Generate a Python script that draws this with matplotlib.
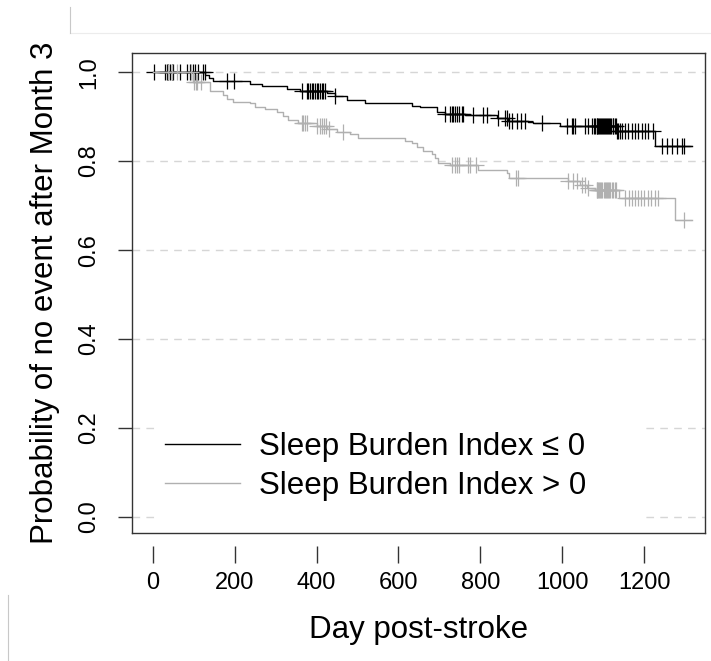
import numpy as np
import matplotlib
matplotlib.use("Agg")
import matplotlib.pyplot as plt
from matplotlib.lines import Line2D
from matplotlib.patches import Rectangle

plt.rcParams['font.family'] = ['Liberation Sans', 'DejaVu Sans']

# Kaplan-Meier steps (day, survival after the step)
black_time = [0, 128, 138, 148, 237, 266, 328, 360, 425, 445, 474, 518, 633, 653,
              694, 714, 763, 841, 868, 917, 929, 995, 1134, 1227]
black_surv = [1.0, 0.993, 0.987, 0.980, 0.973, 0.969, 0.963, 0.958, 0.953, 0.946,
              0.938, 0.931, 0.924, 0.921, 0.911, 0.907, 0.904, 0.897, 0.891, 0.888,
              0.885, 0.879, 0.868, 0.835]
black_end = 1318

grey_time = [0, 98, 139, 171, 180, 196, 237, 249, 274, 303, 318, 330, 355, 401, 425,
             450, 482, 501, 616, 633, 645, 660, 682, 690, 697, 726, 795, 865, 870,
             1015, 1044, 1061, 1081, 1140, 1276]
grey_surv = [1.0, 0.978, 0.958, 0.948, 0.939, 0.933, 0.930, 0.922, 0.918, 0.911,
             0.902, 0.892, 0.886, 0.878, 0.873, 0.865, 0.860, 0.852, 0.845, 0.840,
             0.832, 0.823, 0.816, 0.806, 0.796, 0.791, 0.781, 0.773, 0.761, 0.756,
             0.746, 0.740, 0.735, 0.716, 0.667]
grey_end = 1318

# censoring times
black_censor = [2, 29, 34, 37, 42, 46, 49, 66, 83, 91, 98, 103, 110, 122, 127, 180, 198,
                364, 377, 380, 384, 389, 392, 396, 401, 404, 408, 413, 416, 421, 445,
                714, 726, 731, 734, 738, 743, 748, 755, 758, 782, 807, 817, 844, 861,
                866, 870, 878, 890, 900, 910, 951, 1012, 1024, 1027, 1032, 1056, 1064,
                1073, 1078, 1081, 1084, 1086, 1088, 1090, 1093, 1095, 1098, 1100, 1103,
                1105, 1108, 1110, 1113, 1115, 1118, 1120, 1123, 1125, 1128, 1131, 1134,
                1137, 1141, 1147, 1154, 1161, 1171, 1178, 1186, 1196, 1203, 1210, 1222,
                1244, 1257, 1269, 1281, 1293, 1298]
grey_censor = [36, 47, 59, 93, 100, 105, 108, 118, 364, 367, 372, 377, 401, 408, 413,
               418, 423, 430, 465, 731, 738, 743, 748, 770, 775, 790, 888, 892, 1015,
               1027, 1037, 1049, 1056, 1064, 1084, 1086, 1088, 1091, 1093, 1096, 1098,
               1101, 1104, 1106, 1109, 1112, 1115, 1118, 1121, 1124, 1128, 1132, 1154,
               1164, 1171, 1178, 1186, 1193, 1200, 1210, 1218, 1227, 1235, 1298]

labels = ["Sleep Burden Index \u2264 0", "Sleep Burden Index > 0"]
colors = ["#000000", "#b0b0b0"]
xticks = [0, 200, 400, 600, 800, 1000, 1200]
yticks = [0.0, 0.2, 0.4, 0.6, 0.8, 1.0]

fig = plt.figure(figsize=(7.11, 6.61), dpi=100)
ax = fig.add_axes([0.1857, 0.1936, 0.8059, 0.7262])

for y in yticks:
    ax.axhline(y, color="#d6d6d6", lw=1, ls=(0, (5.5, 4.5)), zorder=0)

curves = [(black_time, black_surv, black_end, black_censor),
          (grey_time, grey_surv, grey_end, grey_censor)]
handles = []
for (t, s, end, cens), col, lab in zip(curves, colors, labels):
    t2 = np.array(t + [end])
    s2 = np.array(s + [s[-1]])
    h, = ax.step(t2, s2, where="post", color=col, lw=1.0, label=lab)
    handles.append(h)
    idx = np.searchsorted(t2, cens, side="right") - 1
    ax.plot(cens, s2[idx], ls="none", marker="+", ms=12, mew=0.9, color=col)

ax.set_xlim(-51, 1349)
ax.set_ylim(-0.036, 1.043)
ax.set_xticks(xticks)
ax.set_yticks(yticks)
ax.set_yticklabels([f"{v:.1f}" for v in yticks])

for sp in ["top", "left", "right"]:
    ax.spines[sp].set_color("#333333")
    ax.spines[sp].set_linewidth(1.0)
ax.spines["bottom"].set_position(("outward", 9))
ax.spines["bottom"].set_visible(False)
ax.plot([0, 1], [0, 0], transform=ax.transAxes, clip_on=False,
        color="#333333", lw=1.0)

ax.tick_params(axis="x", length=12, width=1, pad=7, labelsize=17, color="#333333")
ax.tick_params(axis="y", length=10, width=1, pad=13, labelsize=17, color="#333333",
               labelrotation=90)
for lbl in ax.get_yticklabels():
    lbl.set_va("center")

ax.set_xlabel("Day post-stroke", fontsize=22.5, labelpad=15)
ax.set_ylabel("Probability of no event after Month 3", fontsize=22.5, labelpad=13)

# white box behind the legend
ax.add_patch(Rectangle((0.049, 0.012), 0.84, 0.225, transform=ax.transAxes,
                       facecolor="white", edgecolor="none", zorder=1))
ax.legend(handles=handles, loc="center left", bbox_to_anchor=(0.058, 0.139),
          frameon=False, fontsize=22.5, handlelength=2.4, handletextpad=0.6,
          labelspacing=0.28, borderpad=0, borderaxespad=0)

# faint frame remnants around the picture
fig.add_artist(Line2D([70 / 711, 1], [1 - 33 / 661, 1 - 33 / 661],
                      transform=fig.transFigure, color="#ececec", lw=0.8))
fig.add_artist(Line2D([70 / 711, 70 / 711], [1 - 7 / 661, 1 - 33 / 661],
                      transform=fig.transFigure, color="#c8c8c8", lw=0.8))
fig.add_artist(Line2D([8 / 711, 8 / 711], [0, 1 - 595 / 661],
                      transform=fig.transFigure, color="#c8c8c8", lw=0.8))

fig.savefig("out.png", dpi=100)
